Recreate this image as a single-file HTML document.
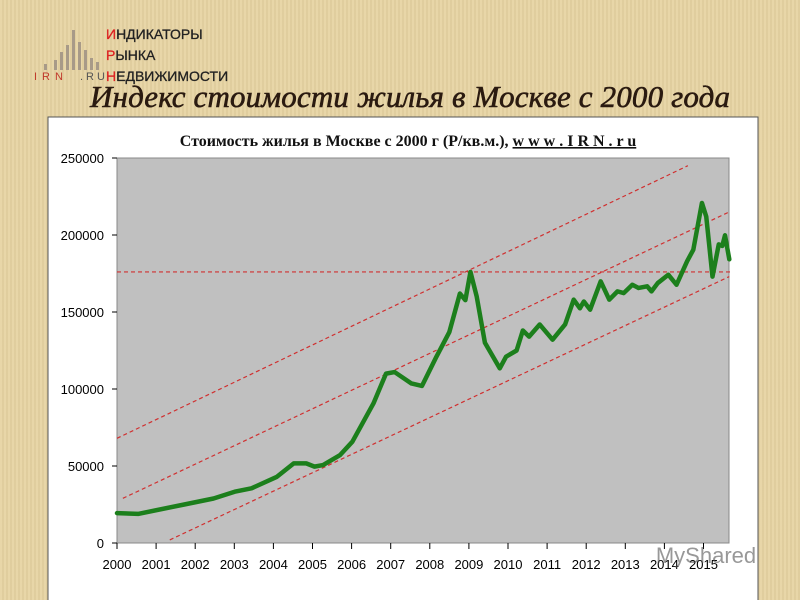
<!DOCTYPE html>
<html><head><meta charset="utf-8"><style>
body{margin:0;width:800px;height:600px;overflow:hidden;background:#e6d3a2;font-family:"Liberation Sans",sans-serif;}
.bg{position:absolute;left:0;top:0;width:800px;height:600px;background:repeating-linear-gradient(90deg,rgba(255,255,255,0.06) 0 2px,rgba(0,0,0,0.03) 2px 4px),#e7d4a3;}
</style></head><body>
<div class="bg"></div>
<svg width="800" height="600" style="position:absolute;left:0;top:0">
<g fill="#a89a88">
<rect x="72" y="30" width="3" height="40"/><rect x="66" y="45" width="3" height="25"/><rect x="60" y="52" width="3" height="18"/><rect x="78" y="42" width="3" height="28"/><rect x="84" y="50" width="3" height="20"/><rect x="90" y="58" width="3" height="12"/><rect x="54" y="60" width="3" height="10"/><rect x="44" y="64" width="3" height="6"/><rect x="96" y="62" width="3" height="8"/>
<text x="34" y="80" font-size="11" fill="#c0392b" letter-spacing="5">IRN</text><text x="80" y="80" font-size="11" fill="#555" letter-spacing="3">.RU</text>
</g>
<g font-size="14" fill="#222" stroke="#222" stroke-width="0.3">
<text x="106" y="39"><tspan fill="#d22" stroke="#d22">И</tspan>НДИКАТОРЫ</text>
<text x="106" y="60"><tspan fill="#d22" stroke="#d22">Р</tspan>ЫНКА</text>
<text x="106" y="81"><tspan fill="#d22" stroke="#d22">Н</tspan>ЕДВИЖИМОСТИ</text>
</g>
<text x="90" y="107" font-family="Liberation Serif,serif" font-style="italic" font-size="31" fill="#2a1a10" stroke="#2a1a10" stroke-width="0.6" textLength="640">Индекс стоимости жилья в Москве с 2000 года</text>
<rect x="48" y="117" width="710" height="490" fill="#fff" stroke="#555"/>
<text x="408" y="146" text-anchor="middle" font-family="Liberation Serif,serif" font-weight="bold" font-size="16" fill="#111">Стоимость жилья в Москве с 2000 г (Р/кв.м.), <tspan text-decoration="underline">w w w . I R N . r u</tspan></text>
<rect x="117" y="158" width="612" height="385" fill="#c0c0c0" stroke="#888"/>
<g id="axes"></g>
<g id="marks"></g>
<text x="706" y="563" font-size="22" fill="#555" opacity="0.6" text-anchor="middle">MyShared</text>
</svg>
<script>
const yTicks=[0,50000,100000,150000,200000,250000];
const xYears=[2000,2001,2002,2003,2004,2005,2006,2007,2008,2009,2010,2011,2012,2013,2014,2015];
const priceYears=[2000.0,2000.54,2001.72,2002.47,2003.01,2003.44,2004.09,2004.52,2004.84,2005.05,2005.27,2005.7,2006.02,2006.56,2006.88,2007.1,2007.53,2007.8,2008.17,2008.5,2008.77,2008.91,2009.04,2009.2,2009.41,2009.79,2009.95,2010.22,2010.38,2010.54,2010.81,2011.14,2011.46,2011.68,2011.84,2011.94,2012.1,2012.37,2012.59,2012.8,2012.96,2013.18,2013.34,2013.56,2013.67,2013.83,2014.1,2014.31,2014.58,2014.74,2014.96,2015.07,2015.23,2015.39,2015.48,2015.55,2015.66];
const priceValues=[19400,18900,25000,28900,33300,35500,43000,51700,51700,49600,50600,57000,65800,90700,110000,111000,103600,102000,121000,137000,162000,157700,176000,160000,130000,113400,121000,125000,138000,134000,141900,132000,141900,158000,152400,156800,151500,169900,158000,163400,162300,167700,165600,166700,163400,168800,174200,167700,182900,190500,220800,212000,173000,193900,192900,199800,184200];
const trendUpper=[[2000,68000],[2014.6,245000]];
const trendMid=[[2000.15,29000],[2015.66,215000]];
const trendLower=[[2001.35,2000],[2015.66,173000]];
const resistance=[[2000,176000],[2015.75,176000]];
const X=y=>117+(y-2000)*39.1, Y=v=>543-v*385/250000;
const NS='http://www.w3.org/2000/svg';
function mk(t,a,p){const e=document.createElementNS(NS,t);for(const k in a)e.setAttribute(k,a[k]);p.appendChild(e);return e;}
const ax=document.getElementById('axes'),mg=document.getElementById('marks');
yTicks.forEach(v=>{
const t=mk('text',{x:104,y:Y(v)+5,'text-anchor':'end','font-size':13,fill:'#000'},ax);t.textContent=v;


mk('line',{x1:112,x2:117,y1:Y(v),y2:Y(v),stroke:'#000'},ax);
});
xYears.forEach(y=>{
const t=mk('text',{x:X(y),y:569,'text-anchor':'middle','font-size':13,fill:'#000'},ax);t.textContent=y;


mk('line',{x1:X(y),x2:X(y),y1:543,y2:549,stroke:'#000'},ax);
});
[[trendUpper,'trend-upper'],[trendMid,'trend-middle'],[trendLower,'trend-lower'],[resistance,'resistance-line']].forEach(([l,n])=>{
const e=mk('line',{x1:X(l[0][0]),y1:Y(l[0][1]),x2:X(l[1][0]),y2:Y(l[1][1]),stroke:'#d03030','stroke-width':1.2,'stroke-dasharray':'4,3'},mg);


});
const p=mk('polyline',{points:priceYears.map((y,i)=>X(y)+','+Y(priceValues[i])).join(' '),fill:'none',stroke:'#1c7f1c','stroke-width':4.5,'stroke-linejoin':'round','stroke-linecap':'round'},mg);


</script>
</body></html>
